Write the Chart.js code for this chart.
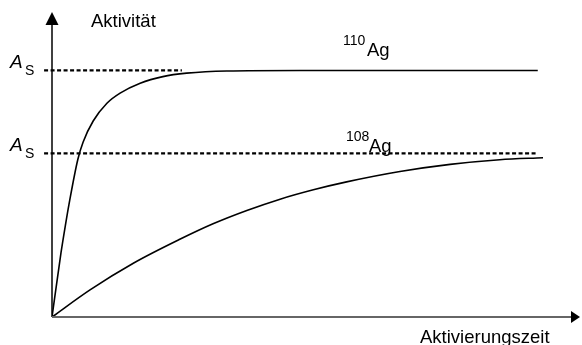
<!DOCTYPE html>
<html>
<head>
<meta charset="utf-8">
<script src="https://cdn.jsdelivr.net/npm/chart.js@4/dist/chart.umd.min.js"></script>
<style>
  body { margin: 0; background: #fff; }
  #wrap { width: 582px; height: 345px; }
</style>
</head>
<body>
<div id="wrap"><canvas id="chart" width="582" height="345"></canvas></div>
<script>
// activity, in units where 100 = saturation of 110Ag
const ag110Time = [0, 1.7, 2.6, 3.2, 4.9, 5.9, 7.8, 10.4, 12.9, 16.7, 21.0, 25.5, 33.1, 47, 92];
const ag110Act  = [0, 26, 38, 45.5, 64, 71, 79.5, 86.7, 90.8, 94.8, 97.5, 98.9, 99.8, 100, 100];

const ag108Time = [0, 7.2, 15.4, 24.2, 30.5, 36.9, 43.2, 49.5, 55.8, 65.9, 75.4, 84.8, 93];
const ag108Act  = [0, 11.0, 21.8, 31.5, 37.8, 43.2, 47.8, 51.6, 54.8, 59.0, 61.9, 63.8, 64.6];

const satHigh = 100;    // A_S of 110Ag
const satLow = 66.4;    // A_S of 108Ag
const satHighEnd = 24.6;
const satLowEnd = 92.0;

const toPoints = (xs, ys) => xs.map((x, i) => ({ x: x, y: ys[i] }));

// axes with arrow heads plus the text labels
const sketchPlugin = {
  id: "sketch",
  afterDraw(chart) {
    const ctx = chart.ctx;
    const a = chart.chartArea;
    const x0 = chart.scales.x.getPixelForValue(0);
    const y0 = chart.scales.y.getPixelForValue(0);
    ctx.save();

    // y axis
    ctx.strokeStyle = "#000";
    ctx.lineWidth = 1.5;
    ctx.beginPath();
    ctx.moveTo(x0, y0);
    ctx.lineTo(x0, a.top + 12);
    ctx.stroke();
    ctx.fillStyle = "#000";
    ctx.beginPath();
    ctx.moveTo(x0, a.top);
    ctx.lineTo(x0 - 6.5, a.top + 13);
    ctx.lineTo(x0 + 6.5, a.top + 13);
    ctx.closePath();
    ctx.fill();

    // x axis
    ctx.strokeStyle = "#666";
    ctx.lineWidth = 2;
    ctx.beginPath();
    ctx.moveTo(x0, y0);
    ctx.lineTo(a.right - 8, y0);
    ctx.stroke();
    ctx.beginPath();
    ctx.moveTo(a.right, y0);
    ctx.lineTo(a.right - 9, y0 - 6);
    ctx.lineTo(a.right - 9, y0 + 6);
    ctx.closePath();
    ctx.fill();

    // labels
    const font = '"Liberation Sans", Arial, sans-serif';
    ctx.fillStyle = "#000";
    ctx.textBaseline = "alphabetic";
    ctx.textAlign = "left";
    ctx.font = "18.5px " + font;
    ctx.fillText("Aktivität", 91, 27);
    ctx.fillText("Aktivierungszeit", 420, 343);

    const yHigh = chart.scales.y.getPixelForValue(satHigh);
    const yLow = chart.scales.y.getPixelForValue(satLow);
    [yHigh, yLow].forEach((yy) => {
      ctx.font = "italic 19px " + font;
      ctx.fillText("A", 10, yy - 2);
      ctx.font = "14px " + font;
      ctx.fillText("S", 25, yy + 5);
    });

    ctx.font = "14px " + font;
    ctx.fillText("110", 343, 45);
    ctx.fillText("108", 346, 141);
    ctx.font = "18.5px " + font;
    ctx.fillText("Ag", 367, 56);
    ctx.fillText("Ag", 369, 152);

    ctx.restore();
  },
};

new Chart(document.getElementById("chart"), {
  type: "line",
  data: {
    datasets: [
      {
        label: "110Ag",
        data: toPoints(ag110Time, ag110Act),
        borderColor: "#000",
        borderWidth: 1.6,
        pointRadius: 0,
        cubicInterpolationMode: "monotone",
        fill: false,
      },
      {
        label: "108Ag",
        data: toPoints(ag108Time, ag108Act),
        borderColor: "#000",
        borderWidth: 1.6,
        pointRadius: 0,
        cubicInterpolationMode: "monotone",
        fill: false,
      },
      {
        label: "A_S 110",
        data: [{ x: -1.5, y: satHigh }, { x: satHighEnd, y: satHigh }],
        borderColor: "#000",
        borderWidth: 2.2,
        borderDash: [4, 2.5],
        pointRadius: 0,
        clip: false,
      },
      {
        label: "A_S 108",
        data: [{ x: -1.5, y: satLow }, { x: satLowEnd, y: satLow }],
        borderColor: "#000",
        borderWidth: 2.2,
        borderDash: [4, 2.5],
        pointRadius: 0,
        clip: false,
      },
    ],
  },
  options: {
    responsive: false,
    animation: false,
    layout: { padding: { left: 52, right: 2, top: 12, bottom: 28 } },
    scales: {
      x: { type: "linear", min: 0, max: 100, display: false },
      y: { type: "linear", min: 0, max: 123.7, display: false },
    },
    plugins: {
      legend: { display: false },
      tooltip: { enabled: false },
    },
  },
  plugins: [sketchPlugin],
});
</script>
</body>
</html>
